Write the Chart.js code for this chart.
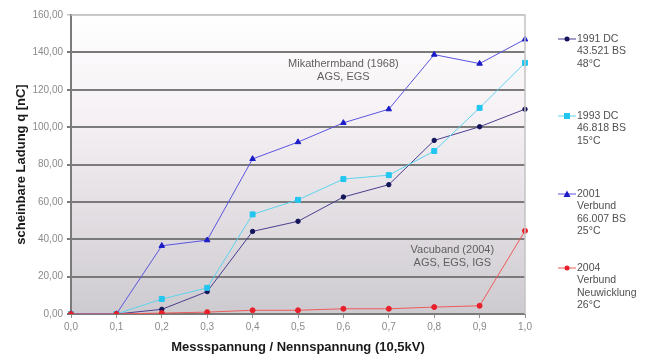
<!DOCTYPE html>
<html>
<head>
<meta charset="utf-8">
<script src="https://cdn.jsdelivr.net/npm/chart.js@4/dist/chart.umd.min.js"></script>
<style>
  html, body { margin: 0; padding: 0; background: #fff; }
  #wrap { width: 646px; height: 355px; position: relative; }
</style>
</head>
<body>
<div id="wrap"><canvas id="chart"></canvas></div>
<script>
const labels = ['0,0', '0,1', '0,2', '0,3', '0,4', '0,5', '0,6', '0,7', '0,8', '0,9', '1,0'];

const dc1991 = [0, 0, 2.5, 12, 44.2, 49.6, 62.6, 69.2, 92.9, 100.2, 109.6];
const dc1993 = [0, 0, 8, 14, 53.3, 61.1, 72.2, 74.3, 87.2, 110.3, 134.4];
const verbund2001 = [0, 0, 36.5, 39.5, 83, 92, 102.3, 109.6, 138.8, 134, 147];
const verbund2004 = [0, 0, 0.5, 1, 2, 2, 2.8, 2.8, 3.7, 4.4, 44.5];

const legendText = [
  ['1991 DC', '43.521 BS', '48°C'],
  ['1993 DC', '46.818 BS', '15°C'],
  ['2001', 'Verbund', '66.007 BS', '25°C'],
  ['2004', 'Verbund', 'Neuwicklung', '26°C']
];

// text notes inside the plot: [category index, value, lines]
const notes = [
  [6, 134, ['Mikathermband (1968)', 'AGS, EGS']],
  [8.4, 34.2, ['Vacuband (2004)', 'AGS, EGS, IGS']]
];

const FONT = '"Liberation Sans", Arial, sans-serif';

const plotBackground = {
  id: 'plotBackground',
  beforeDraw(chart) {
    const {ctx, chartArea: a} = chart;
    const g = ctx.createLinearGradient(0, a.top, 0, a.bottom);
    g.addColorStop(0, '#ffffff');
    g.addColorStop(0.35, '#f5f0f4');
    g.addColorStop(1, '#cecbd0');
    ctx.save();
    ctx.fillStyle = g;
    ctx.fillRect(a.left, a.top, a.right - a.left, a.bottom - a.top);
    ctx.restore();
  },
  afterDraw(chart) {
    const {ctx, chartArea: a} = chart;
    ctx.save();
    // light frame on top and right
    ctx.strokeStyle = '#c4c4c4';
    ctx.lineWidth = 1.5;
    ctx.beginPath();
    ctx.moveTo(a.left, a.top);
    ctx.lineTo(a.right, a.top);
    ctx.lineTo(a.right, a.bottom);
    ctx.stroke();

    // notes
    const xs = chart.scales.x, ys = chart.scales.y;
    ctx.font = '11px ' + FONT;
    ctx.fillStyle = '#606060';
    ctx.textAlign = 'center';
    ctx.textBaseline = 'middle';
    notes.forEach(([xi, v, lines]) => {
      const x = xs.getPixelForValue(xi);
      const y = ys.getPixelForValue(v);
      lines.forEach((t, i) => ctx.fillText(t, x, y + i * 13));
    });

    // legend on the right
    const tops = [39, 116, 194, 268];
    ctx.textAlign = 'left';
    ctx.font = '10.5px ' + FONT;
    chart.data.datasets.forEach((ds, i) => {
      const y = tops[i];
      ctx.strokeStyle = ds.borderColor;
      ctx.lineWidth = 1;
      ctx.beginPath();
      ctx.moveTo(558, y);
      ctx.lineTo(576, y);
      ctx.stroke();
      ctx.fillStyle = ds.pointBackgroundColor;
      ctx.beginPath();
      if (ds.pointStyle === 'rect') {
        ctx.fillRect(564, y - 3, 6, 6);
      } else if (ds.pointStyle === 'triangle') {
        ctx.moveTo(567, y - 3.5); ctx.lineTo(570.5, y + 3); ctx.lineTo(563.5, y + 3); ctx.closePath(); ctx.fill();
      } else {
        ctx.arc(567, y, 2.5, 0, Math.PI * 2); ctx.fill();
      }
      ctx.fillStyle = '#505050';
      legendText[i].forEach((t, j) => ctx.fillText(t, 577, y + j * 12.5));
    });
    ctx.restore();
  }
};

function series(label, data, line, point, style, r, order) {
  return {
    label, data, order,
    borderColor: line,
    borderWidth: 1,
    pointBackgroundColor: point,
    pointBorderColor: point,
    pointStyle: style,
    pointRadius: r,
    tension: 0
  };
}

new Chart(document.getElementById('chart'), {
  type: 'line',
  data: {
    labels: labels,
    datasets: [
      series('1991 DC', dc1991, '#4b3f8f', '#14145a', 'circle', 2.2, 4),
      series('1993 DC', dc1993, '#5ed3ee', '#22c6f0', 'rect', 3.5, 3),
      series('2001', verbund2001, '#5b55e0', '#1a1ac8', 'triangle', 3.2, 2),
      series('2004', verbund2004, '#f05a5a', '#e8202a', 'circle', 2.5, 1)
    ]
  },
  options: {
    responsive: true,
    maintainAspectRatio: false,
    animation: false,
    layout: { padding: { top: 15, right: 121, left: 0, bottom: 0 } },
    plugins: {
      legend: { display: false },
      tooltip: { enabled: false }
    },
    scales: {
      x: {
        offset: false,
        afterFit(scale) { scale.height = 41; },
        grid: { display: true, drawOnChartArea: false, drawTicks: true, tickLength: 4, color: '#909090' },
        border: { display: false },
        ticks: { color: '#8a8a8a', font: { family: FONT, size: 10 }, padding: 3, maxRotation: 0 },
        title: {
          display: true,
          text: 'Messspannung / Nennspannung (10,5kV)',
          color: '#1a1a1a',
          font: { family: FONT, size: 13, weight: 'bold' },
          padding: { top: 1, bottom: 0 }
        }
      },
      y: {
        min: 0,
        max: 160,
        afterFit(scale) { scale.width = 71; },
        ticks: {
          stepSize: 20,
          color: '#8a8a8a',
          font: { family: FONT, size: 10 },
          padding: 4,
          callback: v => v.toFixed(2).replace('.', ',')
        },
        grid: {
          color: c => c.tick && c.tick.value === 160 ? '#c4c4c4' : '#7a7a7a',
          lineWidth: c => c.tick && c.tick.value === 160 ? 1.5 : 2,
          tickLength: 4
        },
        border: { display: true, color: '#7a7a7a', width: 2 },
        title: {
          display: true,
          text: 'scheinbare Ladung q [nC]',
          color: '#1a1a1a',
          font: { family: FONT, size: 13, weight: 'bold' },
          padding: { top: 14, bottom: 4 }
        }
      }
    }
  },
  plugins: [plotBackground]
});
</script>
</body>
</html>
